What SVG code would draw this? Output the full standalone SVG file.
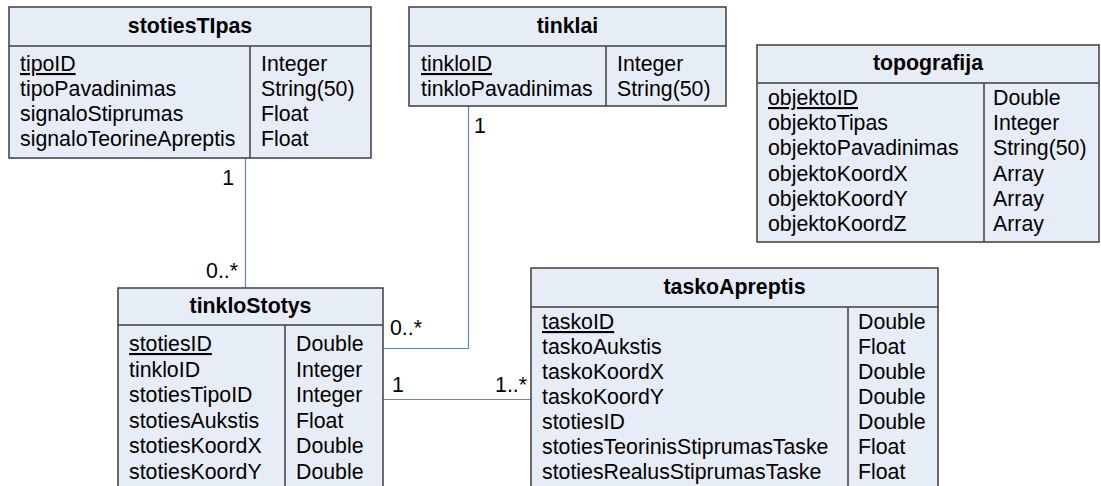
<svg xmlns="http://www.w3.org/2000/svg" width="1101" height="486" viewBox="0 0 1101 486">
  <style>
    .box { fill: #e7edf7; stroke: #3c3c3c; stroke-width: 1.5; }
    .sep { stroke: #3c3c3c; stroke-width: 1.5; fill: none; }
    .title { font-family: "Liberation Sans", Arial, sans-serif; font-size: 21.3px; font-weight: bold; fill: #000; text-anchor: middle; }
    .row { font-family: "Liberation Sans", Arial, sans-serif; font-size: 21.3px; fill: #000; }
    .pk { text-decoration: underline; }
    .link { stroke: #6485c4; stroke-width: 1.2; fill: none; }
    .mult { font-family: "Liberation Sans", Arial, sans-serif; font-size: 21.3px; fill: #000; }
    .end { text-anchor: end; }
  </style>

  <!-- associations -->
  <g id="connectors">
    <path class="link" d="M245.5 158 V288"/>
    <path class="link" d="M468.5 106 V348.5 H383"/>
    <path class="link" d="M383 399.5 H531"/>
    <text class="mult end" x="234" y="185">1</text>
    <text class="mult end" x="238" y="278">0..*</text>
    <text class="mult" x="474" y="133">1</text>
    <text class="mult" x="390" y="335">0..*</text>
    <text class="mult" x="392" y="392">1</text>
    <text class="mult end" x="527" y="392">1..*</text>
  </g>

  <!-- station type table -->
  <g id="stotiesTIpas">
    <rect class="box" x="9" y="7" width="362" height="151"/>
    <line class="sep" x1="9" y1="46" x2="371" y2="46"/>
    <line class="sep" x1="250" y1="46" x2="250" y2="158"/>
    <text class="title" x="190" y="33">stotiesTIpas</text>
    <text class="row pk" x="20" y="71">tipoID</text>
    <text class="row" x="20" y="96">tipoPavadinimas</text>
    <text class="row" x="20" y="121">signaloStiprumas</text>
    <text class="row" x="20" y="146">signaloTeorineApreptis</text>
    <text class="row" x="261" y="71">Integer</text>
    <text class="row" x="261" y="96">String(50)</text>
    <text class="row" x="261" y="121">Float</text>
    <text class="row" x="261" y="146">Float</text>
  </g>

  <!-- networks table -->
  <g id="tinklai">
    <rect class="box" x="409" y="7" width="317" height="99"/>
    <line class="sep" x1="409" y1="46" x2="726" y2="46"/>
    <line class="sep" x1="606" y1="46" x2="606" y2="106"/>
    <text class="title" x="567.5" y="33">tinklai</text>
    <text class="row pk" x="421" y="71">tinkloID</text>
    <text class="row" x="421" y="96">tinkloPavadinimas</text>
    <text class="row" x="617" y="71">Integer</text>
    <text class="row" x="617" y="96">String(50)</text>
  </g>

  <!-- topography objects table -->
  <g id="topografija">
    <rect class="box" x="757" y="45" width="342" height="197"/>
    <line class="sep" x1="757" y1="83" x2="1099" y2="83"/>
    <line class="sep" x1="984" y1="83" x2="984" y2="242"/>
    <text class="title" x="928" y="70">topografija</text>
    <text class="row pk" x="768" y="105">objektoID</text>
    <text class="row" x="768" y="130">objektoTipas</text>
    <text class="row" x="768" y="155">objektoPavadinimas</text>
    <text class="row" x="768" y="181">objektoKoordX</text>
    <text class="row" x="768" y="206">objektoKoordY</text>
    <text class="row" x="768" y="231">objektoKoordZ</text>
    <text class="row" x="993" y="105">Double</text>
    <text class="row" x="993" y="130">Integer</text>
    <text class="row" x="993" y="155">String(50)</text>
    <text class="row" x="993" y="181">Array</text>
    <text class="row" x="993" y="206">Array</text>
    <text class="row" x="993" y="231">Array</text>
  </g>

  <!-- network stations table (continues below the frame) -->
  <g id="tinkloStotys">
    <rect class="box" x="118" y="288" width="265" height="220"/>
    <line class="sep" x1="118" y1="325" x2="383" y2="325"/>
    <line class="sep" x1="285" y1="325" x2="285" y2="508"/>
    <text class="title" x="250.5" y="313">tinkloStotys</text>
    <text class="row pk" x="129" y="351">stotiesID</text>
    <text class="row" x="129" y="376.5">tinkloID</text>
    <text class="row" x="129" y="402">stotiesTipoID</text>
    <text class="row" x="129" y="427.5">stotiesAukstis</text>
    <text class="row" x="129" y="453">stotiesKoordX</text>
    <text class="row" x="129" y="478.5">stotiesKoordY</text>
    <text class="row" x="296" y="351">Double</text>
    <text class="row" x="296" y="376.5">Integer</text>
    <text class="row" x="296" y="402">Integer</text>
    <text class="row" x="296" y="427.5">Float</text>
    <text class="row" x="296" y="453">Double</text>
    <text class="row" x="296" y="478.5">Double</text>
  </g>

  <!-- coverage point table (continues below the frame) -->
  <g id="taskoApreptis">
    <rect class="box" x="531" y="268" width="407" height="240"/>
    <line class="sep" x1="531" y1="307" x2="938" y2="307"/>
    <line class="sep" x1="848" y1="307" x2="848" y2="508"/>
    <text class="title" x="734.5" y="294">taskoApreptis</text>
    <text class="row pk" x="542" y="329">taskoID</text>
    <text class="row" x="542" y="354">taskoAukstis</text>
    <text class="row" x="542" y="379">taskoKoordX</text>
    <text class="row" x="542" y="404">taskoKoordY</text>
    <text class="row" x="542" y="429">stotiesID</text>
    <text class="row" x="542" y="454">stotiesTeorinisStiprumasTaske</text>
    <text class="row" x="542" y="479">stotiesRealusStiprumasTaske</text>
    <text class="row" x="858" y="329">Double</text>
    <text class="row" x="858" y="354">Float</text>
    <text class="row" x="858" y="379">Double</text>
    <text class="row" x="858" y="404">Double</text>
    <text class="row" x="858" y="429">Double</text>
    <text class="row" x="858" y="454">Float</text>
    <text class="row" x="858" y="479">Float</text>
  </g>
</svg>
